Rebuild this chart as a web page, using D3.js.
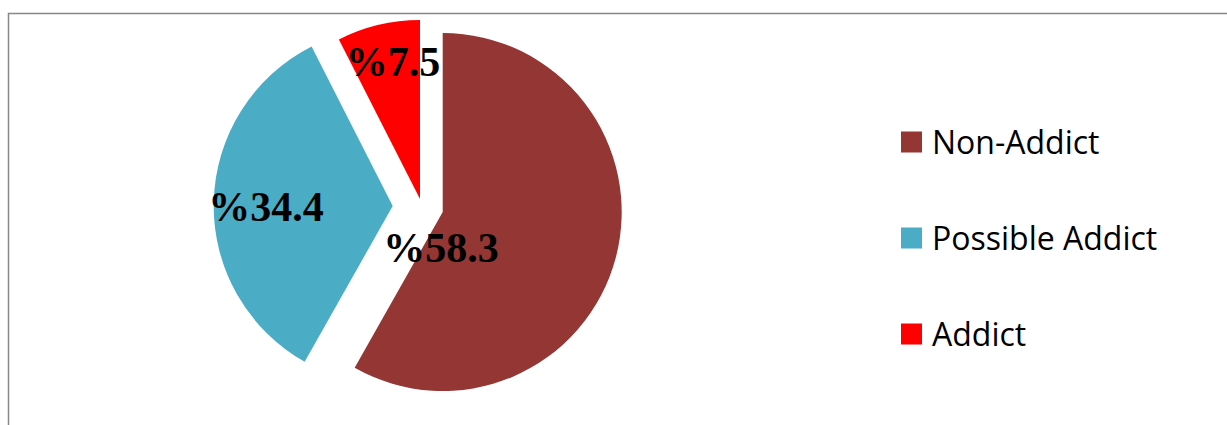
<!DOCTYPE html>
<html>
<head>
<meta charset="utf-8">
<script src="https://cdn.jsdelivr.net/npm/d3@7"></script>
<style>
  html, body { margin: 0; padding: 0; background: #fff; }
  svg { display: block; }
</style>
</head>
<body>
<svg id="chart" width="1227" height="425"></svg>
<script>
// Data
const categories = ["Non-Addict", "Possible Addict", "Addict"];
const values = [58.3, 34.4, 7.5];
const labels = ["%58.3", "%34.4", "%7.5"];
const colors = ["#943634", "#4BACC6", "#FF0000"];

// Layout config
const W = 1227, H = 425;
const cx = 442.7, cy = 212, R = 179;
const explode = [[0, 0], [-50, -6], [-22.7, -13]];
const labelPos = [[441, 262], [266, 221], [393, 76]];

const svg = d3.select("#chart");

// Chart area border
svg.append("path")
  .attr("d", `M8.5,${H + 5} L8.5,13.5 L${W + 5},13.5`)
  .attr("fill", "none")
  .attr("stroke", "#878787")
  .attr("stroke-width", 1.5);

const pie = d3.pie().sort(null).value(d => d.v);
const arcs = pie(categories.map((c, i) => ({ c, v: values[i], i })));
const arc = d3.arc().innerRadius(0).outerRadius(R);

const g = svg.append("g").attr("transform", `translate(${cx},${cy})`);

g.selectAll("path.slice")
  .data(arcs)
  .enter().append("path")
  .attr("class", "slice")
  .attr("d", arc)
  .attr("fill", d => colors[d.data.i])
  .attr("transform", d => `translate(${explode[d.data.i][0]},${explode[d.data.i][1]})`);

svg.selectAll("text.lbl")
  .data(arcs)
  .enter().append("text")
  .attr("class", "lbl")
  .attr("x", d => labelPos[d.data.i][0])
  .attr("y", d => labelPos[d.data.i][1])
  .attr("text-anchor", "middle")
  .attr("font-family", "'Liberation Serif', 'Times New Roman', serif")
  .attr("font-weight", "bold")
  .attr("font-size", 42)
  .attr("fill", "#000")
  .text(d => labels[d.data.i]);

// Legend
const legend = svg.append("g");
const legY = d3.scalePoint().domain(categories).range([142, 334]);
const item = legend.selectAll("g.item")
  .data(categories)
  .enter().append("g")
  .attr("class", "item")
  .attr("transform", d => `translate(0,${legY(d)})`);

item.append("rect")
  .attr("x", 901).attr("y", -10.5)
  .attr("width", 21).attr("height", 21)
  .attr("fill", (d, i) => colors[i]);

item.append("text")
  .attr("x", 932)
  .attr("y", 12)
  .attr("font-family", "'Open Sans', 'Noto Sans', sans-serif")
  .attr("font-size", 32)
  .attr("fill", "#000")
  .text(d => d);
</script>
</body>
</html>
